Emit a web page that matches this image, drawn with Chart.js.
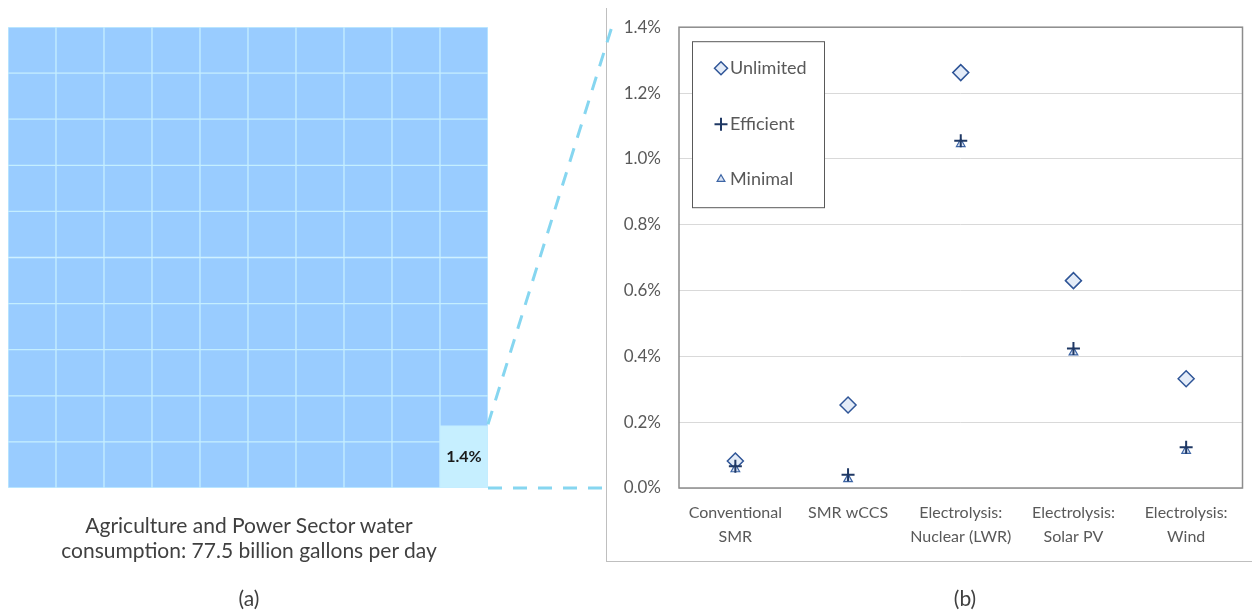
<!DOCTYPE html>
<html>
<head>
<meta charset="utf-8">
<script src="https://cdn.jsdelivr.net/npm/chart.js@4"></script>
<style>
  body { margin: 0; background: #fff; font-family: Lato, "Open Sans", sans-serif; }
  #page { position: relative; width: 1252px; height: 611px; overflow: hidden; }
  #waffleBox { position: absolute; left: 0; top: 0; width: 500px; height: 500px; }
  #panelB { position: absolute; left: 606px; top: 8px; width: 646px; height: 554px;
            border-left: 1px solid #bfbfbf; border-bottom: 1px solid #bfbfbf; box-sizing: border-box; }
  #scatterBox { position: absolute; left: 0; top: -9px; width: 645px; height: 562px; }
  #zoomLines { position: absolute; left: 0; top: 0; pointer-events: none; }
  .caption { position: absolute; color: #404040; font-size: 21px; text-align: center; line-height: 25px; }
</style>
</head>
<body>
<div id="page">
  <div id="waffleBox"><canvas id="waffleChart"></canvas></div>
  <div id="panelB"><div id="scatterBox"><canvas id="scatterChart"></canvas></div></div>
  <canvas id="zoomLines" width="1252" height="611"></canvas>
  <div class="caption" style="left:0; width:498px; top:512px;">Agriculture and Power Sector water<br>consumption: 77.5 billion gallons per day</div>
  <div class="caption" style="left:0; width:498px; top:585px;">(a)</div>
  <div class="caption" style="left:915px; width:100px; top:585px;">(b)</div>
</div>
<script>
// ---- panel (a): waffle of 100 one-percent cells ----
const waffleColumns = ["c1", "c2", "c3", "c4", "c5", "c6", "c7", "c8", "c9", "c10"];
const waffleRowCount = 10;
// last column, bottom to top (in 1% row units): the 1.4% cell takes extra height
const lastColumnCells = [1.34, 0.66, 1, 1, 1, 1, 1, 1, 1, 1];
const hydrogenShare = "1.4%";

// ---- panel (b): share of water consumption ----
const categories = [["Conventional", "SMR"], "SMR wCCS", ["Electrolysis:", "Nuclear (LWR)"], ["Electrolysis:", "Solar PV"], ["Electrolysis:", "Wind"]];
const unlimited = [0.082, 0.252, 1.262, 0.630, 0.332];
const efficient = [0.066, 0.040, 1.055, 0.424, 0.124];
const minimal = [0.057, 0.027, 1.045, 0.412, 0.113];
const yTicks = [0, 0.2, 0.4, 0.6, 0.8, 1.0, 1.2, 1.4];

const cellFill = "#99ccff";
const highlightFill = "#c6efff";

// build one stacked dataset per row
const waffleSets = [];
for (let r = 0; r < waffleRowCount; r++) {
  const data = waffleColumns.map((c, i) => i === waffleColumns.length - 1 ? lastColumnCells[r] : 1);
  const colors = waffleColumns.map((c, i) => (r === 0 && i === waffleColumns.length - 1) ? highlightFill : cellFill);
  waffleSets.push({
    data: data,
    backgroundColor: colors,
    borderColor: "#c4eeff",
    borderWidth: 1,
    borderSkipped: false,
    categoryPercentage: 1,
    barPercentage: 1
  });
}

const shareLabel = {
  id: "shareLabel",
  afterDatasetsDraw(chart) {
    const el = chart.getDatasetMeta(0).data[waffleColumns.length - 1];
    const ctx = chart.ctx;
    ctx.save();
    ctx.font = "bold 16px Lato, sans-serif";
    ctx.fillStyle = "#1a1a1a";
    ctx.textAlign = "center";
    ctx.textBaseline = "middle";
    ctx.fillText(hydrogenShare, el.x, (el.y + el.base) / 2);
    ctx.restore();
  }
};

const waffle = new Chart(document.getElementById("waffleChart"), {
  type: "bar",
  data: { labels: waffleColumns, datasets: waffleSets },
  options: {
    responsive: true,
    maintainAspectRatio: false,
    animation: false,
    layout: { padding: { left: 8, top: 27, right: 12, bottom: 12 } },
    plugins: { legend: { display: false }, tooltip: { enabled: false } },
    scales: {
      x: { stacked: true, display: false },
      y: { stacked: true, display: false, min: 0, max: waffleRowCount }
    }
  },
  plugins: [shareLabel]
});

// ---- scatter chart ----
const plotFrame = {
  id: "plotFrame",
  afterDraw(chart) {
    const a = chart.chartArea;
    const ctx = chart.ctx;
    ctx.save();
    ctx.strokeStyle = "#8c8c8c";
    ctx.lineWidth = 1.5;
    ctx.strokeRect(a.left, a.top, a.right - a.left, a.bottom - a.top);
    ctx.restore();
  }
};

const boxLegend = {
  id: "boxLegend",
  afterDraw(chart) {
    const a = chart.chartArea;
    const ctx = chart.ctx;
    const left = a.left + 13, top = a.top + 14;
    ctx.save();
    ctx.fillStyle = "#fff";
    ctx.fillRect(left, top, 132, 166);
    ctx.strokeStyle = "#595959";
    ctx.lineWidth = 1;
    ctx.strokeRect(left + 0.5, top + 0.5, 132, 166);
    const offsets = [27, 83, 138];
    chart.data.datasets.forEach((ds, i) => {
      const y = top + offsets[i];
      ctx.fillStyle = ds.pointBackgroundColor;
      ctx.strokeStyle = ds.pointBorderColor;
      ctx.lineWidth = ds.pointBorderWidth;
      Chart.helpers.drawPoint(ctx, { pointStyle: ds.pointStyle, radius: ds.legendRadius, borderWidth: ds.pointBorderWidth, rotation: 0 }, left + 29, y);
      ctx.fillStyle = "#595959";
      ctx.font = "18px Lato, sans-serif";
      ctx.textAlign = "left";
      ctx.textBaseline = "middle";
      ctx.fillText(ds.label, left + 38, y);
    });
    ctx.restore();
  }
};

const scatter = new Chart(document.getElementById("scatterChart"), {
  type: "line",
  data: {
    labels: categories,
    datasets: [
      { label: "Unlimited", data: unlimited, showLine: false, pointStyle: "rectRot", pointRadius: 8, legendRadius: 6.5,
        pointBackgroundColor: "#e4ecf8", pointBorderColor: "#2f5597", pointBorderWidth: 1.5, order: 3 },
      { label: "Efficient", data: efficient, showLine: false, pointStyle: "cross", pointRadius: 6.5, legendRadius: 6.5,
        pointBackgroundColor: "#1f3864", pointBorderColor: "#1f3864", pointBorderWidth: 2, order: 1 },
      { label: "Minimal", data: minimal, showLine: false, pointStyle: "triangle", pointRadius: 5, legendRadius: 4.5,
        pointBackgroundColor: "#dae3f3", pointBorderColor: "#3d65a5", pointBorderWidth: 1.2, order: 2 }
    ]
  },
  options: {
    responsive: true,
    maintainAspectRatio: false,
    animation: false,
    layout: { padding: { left: 0, top: 9, right: 7, bottom: 0 } },
    plugins: { legend: { display: false }, tooltip: { enabled: false } },
    scales: {
      x: {
        offset: true,
        grid: { display: false, drawTicks: false },
        border: { display: false },
        ticks: { color: "#595959", font: { family: "Lato", size: 16, lineHeight: 1.5 }, padding: 13, maxRotation: 0, autoSkip: false },
        afterFit(scale) { scale.height = 73; }
      },
      y: {
        min: 0,
        max: 1.4,
        grid: { color: "#d9d9d9", drawTicks: false },
        border: { display: false },
        afterBuildTicks(scale) { scale.ticks = yTicks.map(v => ({ value: v })); },
        ticks: {
          color: "#595959",
          font: { family: "Lato", size: 17 },
          padding: 18,
          callback: v => v.toFixed(1) + "%"
        },
        afterFit(scale) { scale.width = 72; }
      }
    }
  },
  plugins: [plotFrame, boxLegend]
});

// ---- dashed zoom lines from the 1.4% cell to panel (b) ----
function drawZoomLines() {
  const cell = waffle.getDatasetMeta(0).data[waffleColumns.length - 1];
  const ctx = document.getElementById("zoomLines").getContext("2d");
  const pageBox = document.getElementById("page").getBoundingClientRect();
  const scatterBox = scatter.canvas.getBoundingClientRect();
  const cellRight = cell.x + cell.width / 2;
  const cellTop = cell.y;
  const cellBottom = cell.base;
  const panelLeft = 606;
  const topY = scatterBox.top - pageBox.top + scatter.scales.y.getPixelForValue(1.4);
  ctx.save();
  ctx.strokeStyle = "#86d6f0";
  ctx.lineWidth = 3;
  ctx.setLineDash([14, 11]);
  ctx.beginPath();
  ctx.moveTo(cellRight, cellTop - 2);
  ctx.lineTo(panelLeft + 7, topY - 4);
  ctx.stroke();
  ctx.beginPath();
  ctx.moveTo(cellRight, cellBottom);
  ctx.lineTo(panelLeft, cellBottom);
  ctx.stroke();
  ctx.restore();
}
drawZoomLines();
</script>
</body>
</html>
